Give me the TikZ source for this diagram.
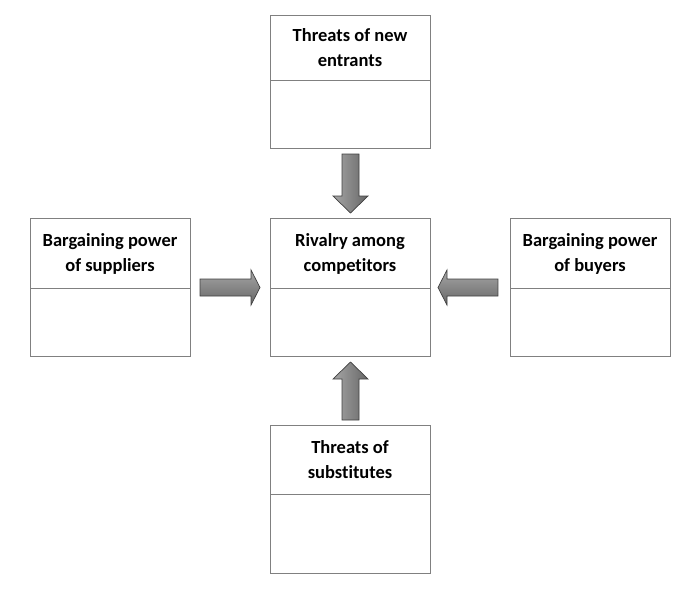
\documentclass[tikz,border=0pt]{standalone}
\usepackage{fontspec}
\setmainfont[Ligatures=NoCommon]{Carlito}
\begin{document}
\begin{tikzpicture}[x=1pt,y=-1pt,
  box/.style={draw=black!50,line width=0.8pt,minimum width=160pt,inner sep=0pt,anchor=north west},
  title/.style={font=\bfseries\fontsize{18.5}{25}\selectfont,align=center,text=black},
  arr/.style={draw=black!75,line width=0.7pt,left color=black!35,right color=black!60}]
\useasboundingbox (0,0) rectangle (696,592);
% boxes
\node[box,minimum height=133pt] (top) at (270,15) {};
\node[box,minimum height=138pt] (mid) at (270,218) {};
\node[box,minimum height=138pt] (lft) at (30,218) {};
\node[box,minimum height=138pt] (rgt) at (510,218) {};
\node[box,minimum height=148pt] (bot) at (270,425) {};
\draw[black!50,line width=0.8pt] (270,80)--(430,80) (270,288)--(430,288) (30,288)--(190,288) (510,288)--(670,288) (270,494)--(430,494);
\node[title] (ttop) at (350,48) {Threats of new\\entrants};
\node[title] (tmid) at (350,254) {Rivalry among\\competitors};
\node[title] (tlft) at (110,254) {Bargaining power\\of suppliers};
\node[title] (trgt) at (590,254) {Bargaining power\\of buyers};
\node[title] (tbot) at (350,460) {Threats of\\substitutes};
% arrows
\path[arr] (342,154)--(359,154)--(359,196)--(368,196)--(350.5,213)--(333,196)--(342,196)--cycle;
\path[arr] (342,420)--(359,420)--(359,379)--(368,379)--(350.5,362)--(333,379)--(342,379)--cycle;
\path[arr,top color=black!35,bottom color=black!60] (200,279)--(251,279)--(251,270)--(260,287.5)--(251,305)--(251,296)--(200,296)--cycle;
\path[arr,top color=black!35,bottom color=black!60] (498,279)--(447,279)--(447,270)--(438,287.5)--(447,305)--(447,296)--(498,296)--cycle;
\end{tikzpicture}
\end{document}
